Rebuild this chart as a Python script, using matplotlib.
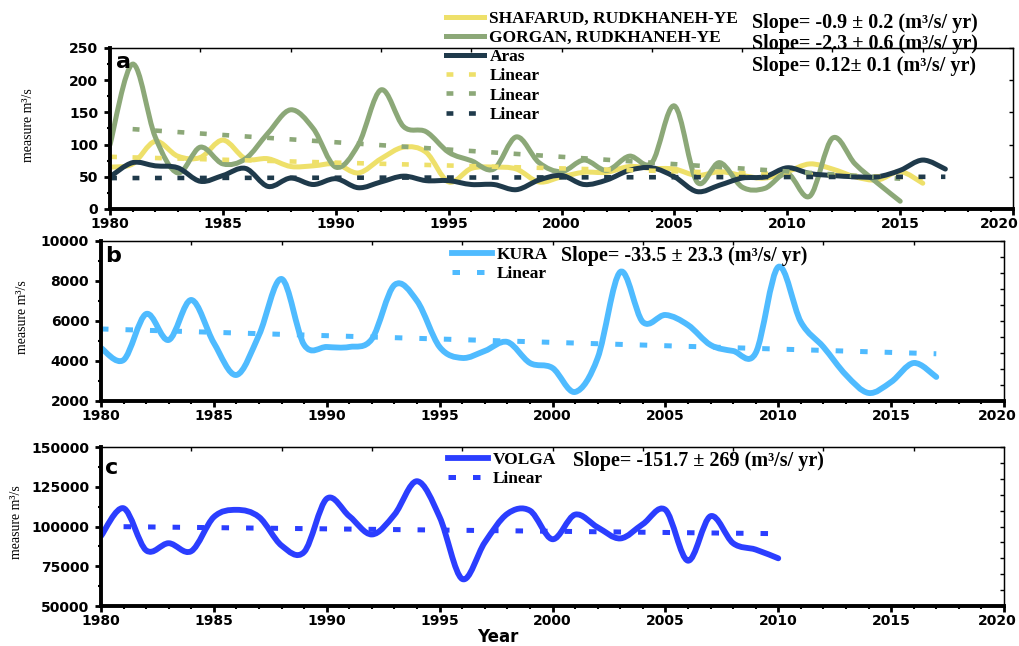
import matplotlib
matplotlib.use('Agg')
import matplotlib.pyplot as plt
import numpy as np
from matplotlib.path import Path
from matplotlib.patches import PathPatch
from matplotlib.lines import Line2D
from matplotlib.ticker import MultipleLocator
from matplotlib.transforms import ScaledTranslation

plt.rcParams['font.family'] = ['DejaVu Sans']
plt.rcParams['font.weight'] = 'bold'

# ---- panel a: Iranian rivers (m3/s)
shafarud_years = list(range(1980, 2017))
shafarud = [65, 70, 105, 82, 80, 107, 78, 78, 66, 67, 70, 56, 78, 96, 88, 42, 63, 65, 62, 42,
            50, 57, 57, 66, 63, 62, 52, 58, 52, 48, 58, 70, 62, 50, 45, 58, 40]
gorgan_years = list(range(1980, 2016))
gorgan = [100, 225, 112, 56, 96, 70, 78, 118, 154, 125, 65, 100, 185, 128, 120, 88, 75, 62, 112, 72,
          58, 76, 60, 82, 72, 160, 42, 72, 34, 32, 55, 20, 110, 70, 40, 12]
aras_years = list(range(1980, 2018))
aras = [50, 72, 67, 64, 43, 52, 63, 35, 48, 38, 47, 33, 42, 51, 44, 44, 38, 38, 30, 45,
        52, 38, 45, 60, 64, 50, 27, 37, 48, 50, 64, 55, 52, 50, 50, 60, 76, 62]
shafarud_trend_years = [1980, 2016]
shafarud_trend = [81, 48.6]
gorgan_trend_years = [1981, 2015]
gorgan_trend = [124, 47]
aras_trend_years = [1980, 2017]
aras_trend = [48, 50]

# ---- panel b: Kura
kura_years = list(range(1980, 2018))
kura = [4650, 4050, 6350, 5050, 7050, 4900, 3300, 5300, 8100, 4800,
        4700, 4700, 5100, 7800, 7000, 4700, 4150, 4500, 4950, 3900,
        3650, 2450, 4150, 8450, 5950, 6300, 5800, 4800, 4500, 4400,
        8700, 5950, 4700, 3300, 2400, 2950, 3900, 3200]
kura_trend_years = [1980, 2017]
kura_trend = [5600, 4360]

# ---- panel c: Volga
volga_years = list(range(1980, 2011))
volga = [94000, 111500, 85000, 89500, 84500, 106000, 110500, 106000, 88000, 84000,
         117500, 106500, 95000, 107500, 128500, 106000, 67000, 90000, 108000, 110000,
         92000, 107500, 99500, 92500, 101500, 110500, 78500, 106500, 89500, 85500,
         80000]
volga_trend_years = [1981, 2010]
volga_trend = [99900, 95500]

c_yel = '#EEE06A'
c_grn = '#8CA878'
c_drk = '#1F3A4B'
c_kura = '#4FBBFF'
c_volga = '#2B3EFF'
serif = 'Liberation Serif'


def smooth_line(ax, x, y, color, lw):
    # catmull-rom curve through the read points, drawn as bezier path
    pts = np.column_stack([x, y]).astype(float)
    n = len(pts)
    verts = [pts[0]]
    codes = [Path.MOVETO]
    for i in range(n - 1):
        p0 = pts[max(i - 1, 0)]
        p1 = pts[i]
        p2 = pts[i + 1]
        p3 = pts[min(i + 2, n - 1)]
        verts += [p1 + (p2 - p0) / 6, p2 - (p3 - p1) / 6, p2]
        codes += [Path.CURVE4] * 3
    ax.add_patch(PathPatch(Path(verts, codes), fill=False, edgecolor=color, lw=lw,
                           capstyle='round', joinstyle='round'))


def style(ax, ylo, yhi, ystep, rdiv):
    ax.set_xlim(1980, 2020)
    ax.set_ylim(ylo, yhi)
    ax.xaxis.set_major_locator(MultipleLocator(5))
    ax.xaxis.set_minor_locator(MultipleLocator(1))
    ax.yaxis.set_major_locator(MultipleLocator(ystep))
    ax.yaxis.set_minor_locator(MultipleLocator(ystep / 2))
    ax.tick_params(which='major', direction='out', length=4.5, width=2, labelsize=10)
    ax.tick_params(axis='x', which='major', pad=1.5)
    ax.tick_params(axis='y', which='major', pad=4)
    ax.tick_params(which='minor', direction='out', length=2.5, width=1.5)
    for s in ['left', 'bottom']:
        ax.spines[s].set_linewidth(2.8)
    for s in ['top', 'right']:
        ax.spines[s].set_linewidth(1.0)
    top = ax.secondary_xaxis('top')
    top.set_xticks(range(1984, 2020, 4))
    top.tick_params(direction='in', length=3, width=1, labeltop=False)
    right = ax.secondary_yaxis('right')
    right.set_yticks(np.linspace(ylo, yhi, rdiv + 1))
    right.tick_params(direction='in', length=3, width=1, labelright=False)


dots = (0, (1.5, 3.4))
leg_font = {'family': serif, 'weight': 'bold', 'size': 12.5}

fig = plt.figure(figsize=(10.19, 6.46), dpi=100)
axa = fig.add_axes([0.108, 0.6765, 0.8862, 0.2492])
axb = fig.add_axes([0.0991, 0.3793, 0.8862, 0.2477])
axc = fig.add_axes([0.0991, 0.0619, 0.8862, 0.2461])

# panel a
smooth_line(axa, shafarud_years, shafarud, c_yel, 3.6)
smooth_line(axa, gorgan_years, gorgan, c_grn, 3.6)
smooth_line(axa, aras_years, aras, c_drk, 3.6)
axa.plot(shafarud_trend_years, shafarud_trend, color=c_yel, lw=3.3, ls=dots, dash_capstyle='butt')
axa.plot(gorgan_trend_years, gorgan_trend, color=c_grn, lw=3.3, ls=dots, dash_capstyle='butt')
axa.plot(aras_trend_years, aras_trend, color=c_drk, lw=3.3, ls=dots, dash_capstyle='butt')
style(axa, 0, 250, 50, 5)
axa.text(0.007, 0.975, 'a', transform=axa.transAxes, fontsize=16, va='top', ha='left')

hand_a = [Line2D([], [], color=c, lw=3.6) for c in (c_yel, c_grn, c_drk)] + \
         [Line2D([], [], color=c, lw=3.3, ls=dots) for c in (c_yel, c_grn, c_drk)]
lab_a = ['SHAFARUD, RUDKHANEH-YE', 'GORGAN, RUDKHANEH-YE', 'Aras', 'Linear', 'Linear', 'Linear']
axa.legend(hand_a, lab_a, loc='upper left', bbox_to_anchor=(446 / 1019, 1 - 11 / 646),
           bbox_transform=fig.transFigure, frameon=False, borderpad=0, borderaxespad=0,
           handlelength=2.2, handletextpad=0.3, labelspacing=0.17, prop=leg_font)
for yy, txt in zip([23, 44, 66], ['Slope= -0.9 ± 0.2 (m³/s/ yr)',
                                  'Slope= -2.3 ± 0.6 (m³/s/ yr)',
                                  'Slope= 0.12± 0.1 (m³/s/ yr)']):
    fig.text(752 / 1019, 1 - yy / 646, txt, family=serif, weight='bold', size=14.5, va='center')

# panel b
smooth_line(axb, kura_years, kura, c_kura, 4.2)
axb.plot(kura_trend_years, kura_trend, color=c_kura, lw=3.6, ls=dots, dash_capstyle='butt')
style(axb, 2000, 10000, 2000, 10)
axb.text(0.005, 0.97, 'b', transform=axb.transAxes, fontsize=16, va='top', ha='left')
hand_b = [Line2D([], [], color=c_kura, lw=4.2), Line2D([], [], color=c_kura, lw=3.6, ls=dots)]
axb.legend(hand_b, ['KURA', 'Linear'], loc='upper left', bbox_to_anchor=(452 / 1019, 1 - 247 / 646),
           bbox_transform=fig.transFigure, frameon=False, borderpad=0, borderaxespad=0,
           handlelength=2.3, handletextpad=0.3, labelspacing=0.15, prop=leg_font)
fig.text(561 / 1019, 1 - 256 / 646, 'Slope= -33.5 ± 23.3 (m³/s/ yr)', family=serif,
         weight='bold', size=14.5, va='center')

# panel c
smooth_line(axc, volga_years, volga, c_volga, 4.2)
axc.plot(volga_trend_years, volga_trend, color=c_volga, lw=3.6, ls=dots, dash_capstyle='butt')
style(axc, 50000, 150000, 25000, 10)
axc.text(0.005, 0.93, 'c', transform=axc.transAxes, fontsize=16, va='top', ha='left')
hand_c = [Line2D([], [], color=c_volga, lw=4.2), Line2D([], [], color=c_volga, lw=3.6, ls=dots)]
axc.legend(hand_c, ['VOLGA', 'Linear'], loc='upper left', bbox_to_anchor=(448 / 1019, 1 - 452 / 646),
           bbox_transform=fig.transFigure, frameon=False, borderpad=0, borderaxespad=0,
           handlelength=2.3, handletextpad=0.3, labelspacing=0.15, prop=leg_font)
fig.text(573 / 1019, 1 - 461 / 646, 'Slope= -151.7 ± 269 (m³/s/ yr)', family=serif,
         weight='bold', size=14.5, va='center')

# axis titles
for xx, yy in [(29, 125), (23, 317), (17, 522)]:
    fig.text(xx / 1019, 1 - yy / 646, 'measure m³/s', rotation=90, family=serif,
             weight='normal', size=10, ha='center', va='center')
fig.text(498 / 1019, 1 - 637 / 646, 'Year', size=12, ha='center', va='center')

# pull the last "2020" label inside the figure edge
fig.canvas.draw()
for ax, shift in [(axa, -14), (axb, -7), (axc, -7)]:
    for tick in ax.xaxis.get_major_ticks():
        if abs(tick.get_loc() - 2020) < 1e-6:
            lab = tick.label1
            lab.set_transform(lab.get_transform() + ScaledTranslation(shift / 100, 0, fig.dpi_scale_trans))

fig.savefig('out.png', dpi=100)
